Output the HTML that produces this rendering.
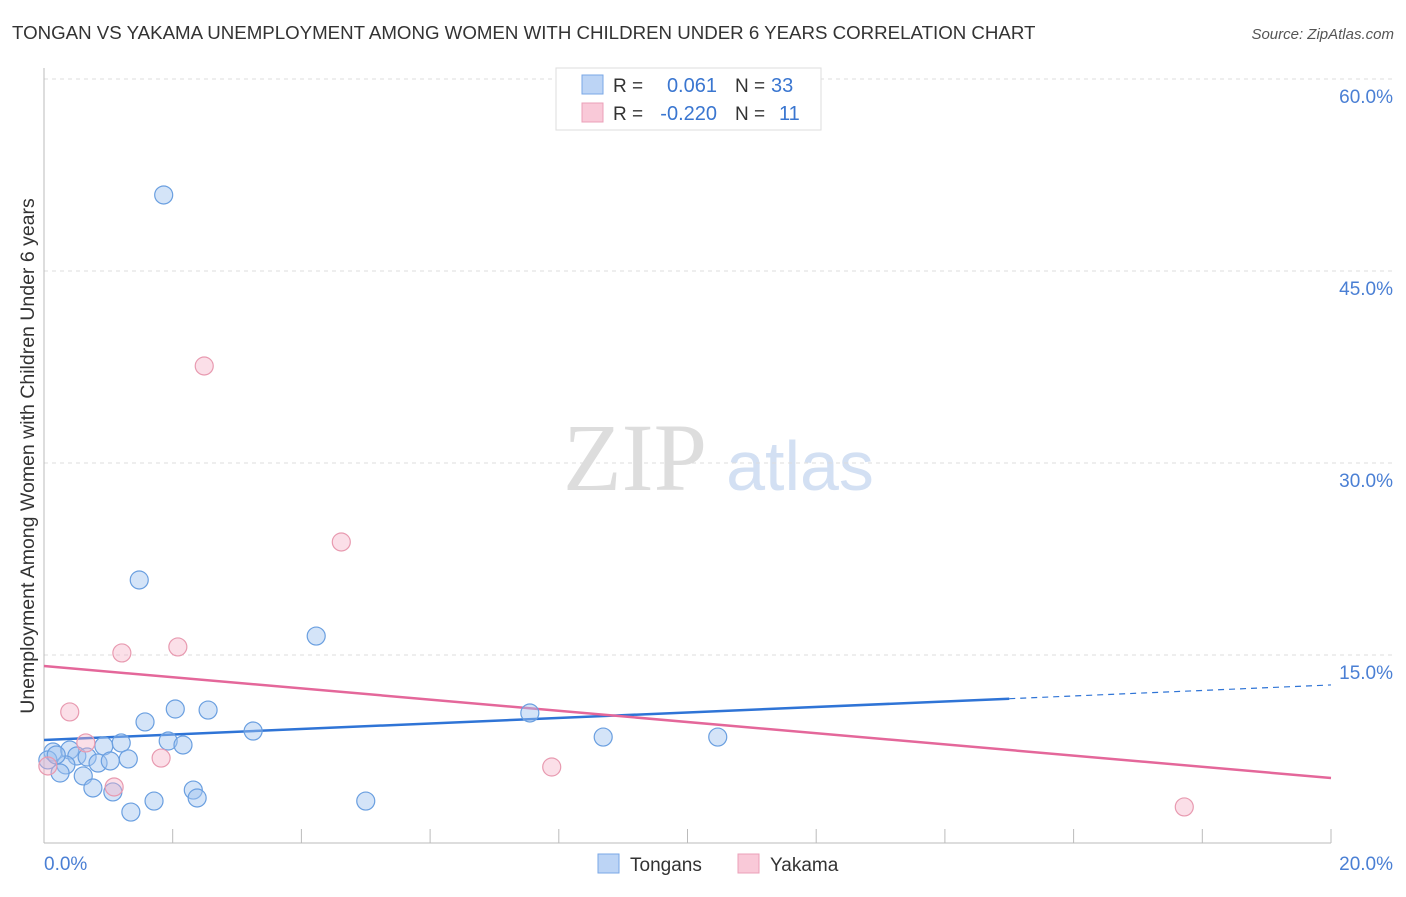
<!DOCTYPE html>
<html><head><meta charset="utf-8"><style>
body{margin:0;background:#fff;font-family:"Liberation Sans",sans-serif}
</style></head><body>
<svg width="1406" height="892" xmlns="http://www.w3.org/2000/svg" id="chart" font-family="Liberation Sans, sans-serif">
<text x="12" y="39" font-size="18.7" fill="#333">TONGAN VS YAKAMA UNEMPLOYMENT AMONG WOMEN WITH CHILDREN UNDER 6 YEARS CORRELATION CHART</text>
<text x="1394" y="39" font-size="15" fill="#555" font-style="italic" text-anchor="end">Source: ZipAtlas.com</text>
<g><text x="635" y="490" font-size="96" fill="#ddd" font-family="Liberation Serif, serif" text-anchor="middle">ZIP</text><text x="800" y="490" font-size="70" fill="#d3e0f3" text-anchor="middle">atlas</text></g>
<g id="grid"></g>
<line x1="44" y1="68" x2="44" y2="843" stroke="#bbb"/>
<line x1="44" y1="843" x2="1331" y2="843" stroke="#bbb"/>
<text transform="translate(34,456) rotate(-90)" font-size="19.5" fill="#333" text-anchor="middle">Unemployment Among Women with Children Under 6 years</text>
<text x="44" y="870" font-size="19" fill="#4a7fd4">0.0%</text>
<text x="1393" y="870" font-size="19" fill="#4a7fd4" text-anchor="end">20.0%</text>
<g id="trends"></g><g id="points"></g>
<g>
<rect x="556" y="68" width="265" height="62" fill="#fff" stroke="#ddd"/>
<rect x="582" y="75" width="21" height="19" fill="#bcd4f5" stroke="#7aa7e6"/>
<rect x="582" y="103" width="21" height="19" fill="#f9c9d8" stroke="#eba0b8"/>
<text x="613" y="92" font-size="19" fill="#333">R =</text><text x="717" y="92" font-size="20" fill="#3a76d0" text-anchor="end">0.061</text>
<text x="735" y="92" font-size="19" fill="#333">N =</text><text x="771" y="92" font-size="20" fill="#3a76d0">33</text>
<text x="613" y="120" font-size="19" fill="#333">R =</text><text x="717" y="120" font-size="20" fill="#3a76d0" text-anchor="end">-0.220</text>
<text x="735" y="120" font-size="19" fill="#333">N =</text><text x="779" y="120" font-size="20" fill="#3a76d0">11</text>
</g>
<g>
<rect x="598" y="854" width="21" height="19" fill="#bcd4f5" stroke="#7aa7e6"/><text x="630" y="871" font-size="19" fill="#333">Tongans</text>
<rect x="738" y="854" width="21" height="19" fill="#f9c9d8" stroke="#eba0b8"/><text x="770" y="871" font-size="19" fill="#333">Yakama</text>
</g>
</svg>
<script>
const yTicks=[15,30,45,60];
const xTicks=[0,2,4,6,8,10,12,14,16,18,20];
const tonganX=[0.14,0.40,0.51,0.67,0.34,0.25,0.84,0.93,1.20,1.03,1.31,0.61,0.76,1.07,1.35,1.71,1.57,2.04,2.55,1.93,2.16,2.32,2.38,3.25,1.86,1.48,4.23,5.00,7.55,8.69,10.47,0.06,0.19];
const tonganY=[7.42,7.58,7.11,7.03,6.41,5.78,6.56,7.89,8.13,6.72,6.88,5.55,4.61,4.30,2.73,3.59,9.77,10.78,10.70,8.28,7.97,4.45,3.83,9.06,50.94,20.86,16.48,3.59,10.47,8.59,8.59,6.80,7.19];
const yakamaX=[0.40,1.21,2.08,2.49,4.62,7.89,17.72,0.65,1.09,1.82,0.06];
const yakamaY=[10.55,15.16,15.63,37.58,23.83,6.25,3.13,8.13,4.69,6.95,6.33];
const tonganTrend=[8.36,12.66];
const yakamaTrend=[14.14,5.39];
const NS="http://www.w3.org/2000/svg";
const xs=v=>44+v/20*1287, ys=v=>847-v/15*192;
function mk(t,a,p){const e=document.createElementNS(NS,t);for(const k in a)e.setAttribute(k,a[k]);document.getElementById(p).appendChild(e);return e;}
yTicks.forEach(t=>{
 const l=mk('line',{x1:44,x2:1394,y1:ys(t),y2:ys(t),stroke:'#ddd','stroke-dasharray':'4,4'},'grid');
 
 
 const tx=mk('text',{x:1393,y:ys(t)+24,'font-size':19,fill:'#4a7fd4','text-anchor':'end'},'grid');
 tx.textContent=t.toFixed(1)+'%';
 
 
});
xTicks.forEach(t=>{
 const l=mk('line',{x1:xs(t),x2:xs(t),y1:829,y2:843,stroke:'#bbb'},'grid');
 
 
});
function pts(X,Y,fill,stroke,name){X.forEach((x,i)=>{
 const c=mk('circle',{cx:xs(x),cy:ys(Y[i]),r:9,fill:fill,stroke:stroke,'stroke-width':1.2},'points');
 
 
});}
pts(tonganX,tonganY,'rgba(160,196,240,0.45)','#6a9fe0','tongan-point');
pts(yakamaX,yakamaY,'rgba(245,175,198,0.4)','#e89ab0','yakama-point');
const ty=x=>tonganTrend[0]+(tonganTrend[1]-tonganTrend[0])*x/20;
let l=mk('line',{x1:xs(0),y1:ys(ty(0)),x2:xs(15),y2:ys(ty(15)),stroke:'#2f74d6','stroke-width':2.5},'trends');


l=mk('line',{x1:xs(15),y1:ys(ty(15)),x2:xs(20),y2:ys(ty(20)),stroke:'#2f74d6','stroke-width':1.2,'stroke-dasharray':'6,5'},'trends');


l=mk('line',{x1:xs(0),y1:ys(yakamaTrend[0]),x2:xs(20),y2:ys(yakamaTrend[1]),stroke:'#e4679a','stroke-width':2.5},'trends');


</script>
</body></html>
